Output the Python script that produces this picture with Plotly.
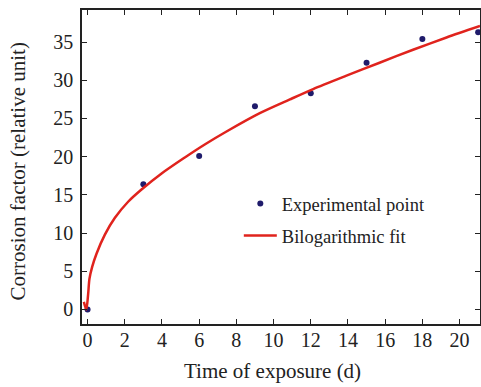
import plotly.graph_objects as go

# Experimental points
exp_time = [0, 3, 6, 9, 12, 15, 18, 21]
exp_factor = [0.0, 16.4, 20.1, 26.6, 28.3, 32.3, 35.4, 36.3]

# Bilogarithmic fit curve
fit_time = [-0.2, -0.07, 0.03, 0.1, 0.25, 0.48, 0.93, 1.47, 2.18, 2.9, 3.98, 5.23,
            6.3, 7.47, 9.26, 10.88, 12.13, 13.92, 15.7, 17.5, 19.3, 21.1]
fit_factor = [1.0, 0.0, 2.0, 4.0, 5.6, 7.3, 9.8, 12.0, 14.1, 15.7, 17.8, 19.9,
              21.6, 23.3, 25.7, 27.5, 28.85, 30.6, 32.3, 34.0, 35.6, 37.1]

x_ticks = [0, 2, 4, 6, 8, 10, 12, 14, 16, 18, 20]
y_ticks = [0, 5, 10, 15, 20, 25, 30, 35]

FONT = "Liberation Serif"
INK = "#222222"

fig = go.Figure()
fig.add_trace(go.Scatter(
    x=exp_time, y=exp_factor, mode="markers", name="Experimental point",
    marker=dict(color="#1f1b6b", size=6), legendgroup="a"))
fig.add_trace(go.Scatter(
    x=fit_time, y=fit_factor, mode="lines", name="Bilogarithmic fit",
    line=dict(color="#e0231d", width=2.5, shape="spline", smoothing=0.8),
    legendgroup="b"))

axis_common = dict(
    showline=True, linecolor=INK, linewidth=1.5, mirror="ticks",
    ticks="inside", ticklen=5, tickcolor=INK, tickwidth=1.2,
    showgrid=False, zeroline=False, automargin=False,
    tickfont=dict(family=FONT, size=20, color=INK),
)

fig.update_layout(
    width=481, height=387,
    margin=dict(l=82, r=1, t=10, b=63, autoexpand=False),
    paper_bgcolor="white", plot_bgcolor="white",
    font=dict(family=FONT, color=INK),
    xaxis=dict(range=[-0.3, 21.1], tickvals=x_ticks, ticklabelstandoff=-3, **axis_common),
    yaxis=dict(range=[-1.9, 39.2], tickvals=y_ticks, ticklabelstandoff=3, **axis_common),
    legend=dict(x=0.394, y=0.4426, xanchor="left", yanchor="top",
                font=dict(family=FONT, size=18.5, color=INK),
                bgcolor="rgba(0,0,0,0)", itemwidth=33, tracegroupgap=5,
                traceorder="grouped"),
    showlegend=True,
    annotations=[
        dict(text="Time of exposure (d)", xref="paper", yref="paper",
             x=0.479, y=0, xanchor="center", yanchor="middle", yshift=-47,
             showarrow=False, font=dict(family=FONT, size=21, color=INK)),
        dict(text="Corrosion factor (relative unit)", xref="paper", yref="paper",
             x=0, y=0.486, xanchor="center", yanchor="middle", xshift=-64,
             textangle=-90, showarrow=False,
             font=dict(family=FONT, size=21, color=INK)),
    ],
)

fig.write_html("out.html", config={"displayModeBar": False},
               post_script="document.body.style.margin='0';document.body.style.overflow='hidden';")
